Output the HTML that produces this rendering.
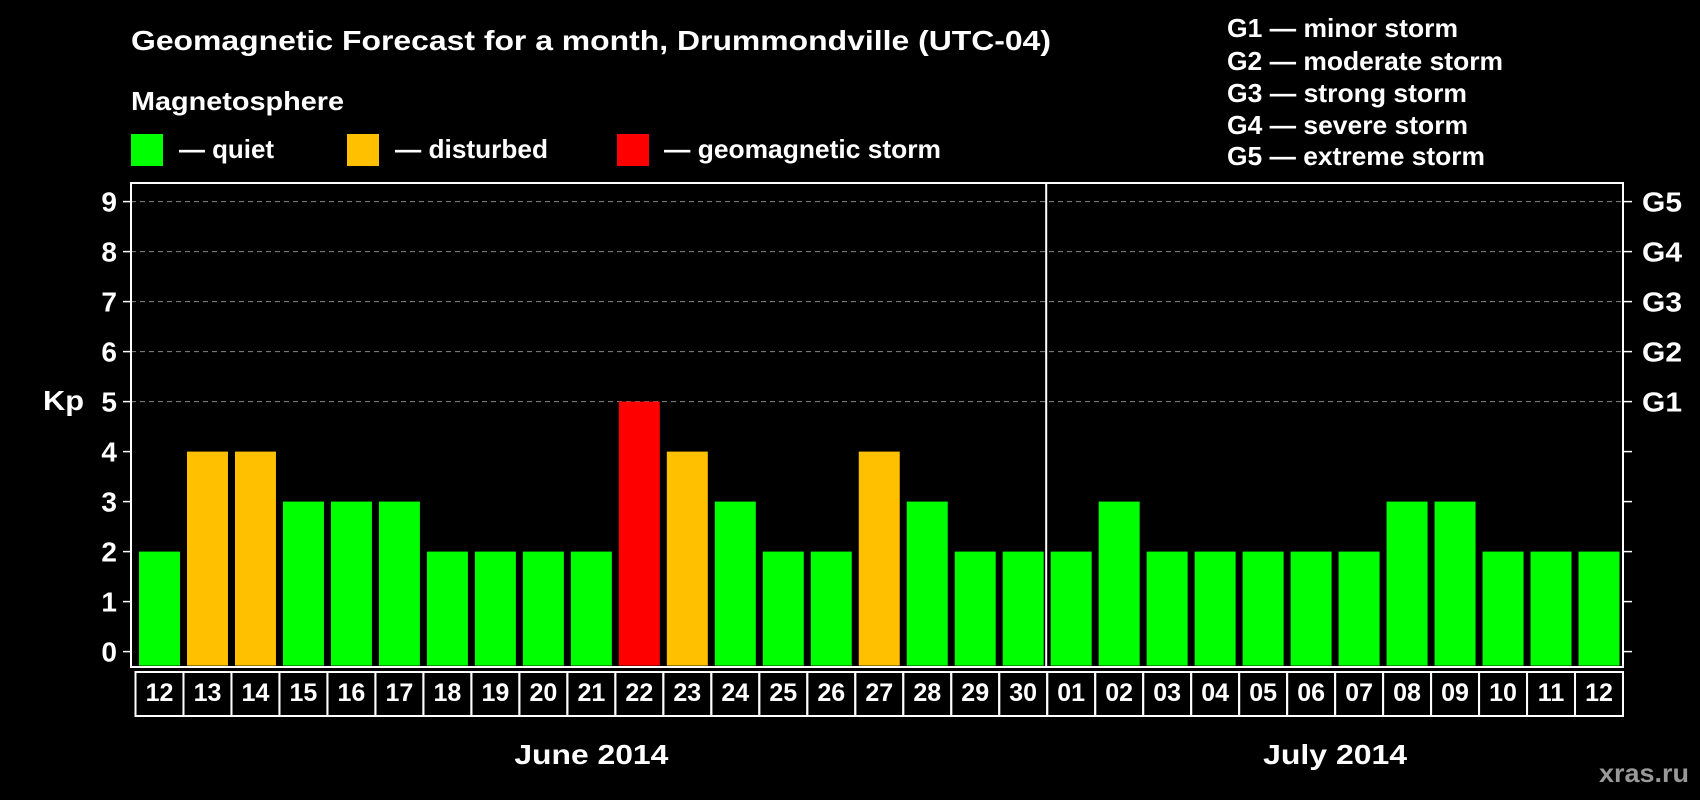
<!DOCTYPE html>
<html><head><meta charset="utf-8"><style>
html,body{margin:0;padding:0;background:#000;width:1700px;height:800px;overflow:hidden}
svg text{font-family:"Liberation Sans",Arial,sans-serif;font-weight:bold;fill:#fff}
</style></head><body>
<svg id="chart" width="1700" height="800" xmlns="http://www.w3.org/2000/svg">
<text x="131" y="50" font-size="28" textLength="920" lengthAdjust="spacingAndGlyphs">Geomagnetic Forecast for a month, Drummondville (UTC-04)</text>
<text x="131" y="110" font-size="26" textLength="213" lengthAdjust="spacingAndGlyphs">Magnetosphere</text>
<g><rect x="131" y="134" width="32" height="32" fill="#00ff00"/><text x="179" y="158" font-size="26" textLength="95" lengthAdjust="spacingAndGlyphs">— quiet</text></g>
<g><rect x="347" y="134" width="32" height="32" fill="#ffc000"/><text x="395" y="158" font-size="26" textLength="153" lengthAdjust="spacingAndGlyphs">— disturbed</text></g>
<g><rect x="617" y="134" width="32" height="32" fill="#ff0000"/><text x="664" y="158" font-size="26" textLength="277" lengthAdjust="spacingAndGlyphs">— geomagnetic storm</text></g>
<g>
<text x="1227" y="37" font-size="26" textLength="231" lengthAdjust="spacingAndGlyphs">G1 — minor storm</text>
<text x="1227" y="70" font-size="26" textLength="276" lengthAdjust="spacingAndGlyphs">G2 — moderate storm</text>
<text x="1227" y="102" font-size="26" textLength="240" lengthAdjust="spacingAndGlyphs">G3 — strong storm</text>
<text x="1227" y="134" font-size="26" textLength="241" lengthAdjust="spacingAndGlyphs">G4 — severe storm</text>
<text x="1227" y="165" font-size="26" textLength="258" lengthAdjust="spacingAndGlyphs">G5 — extreme storm</text>
</g>
<text x="43" y="410" font-size="28" textLength="41" lengthAdjust="spacingAndGlyphs">Kp</text>
<g id="grid"></g><g id="bars"></g><g id="axes"></g>
<text x="1599" y="782" font-size="26" textLength="90" lengthAdjust="spacingAndGlyphs" style="fill:#999">xras.ru</text>
</svg>
<script>
const days = ["12","13","14","15","16","17","18","19","20","21","22","23","24","25","26","27","28","29","30","01","02","03","04","05","06","07","08","09","10","11","12"];
const kpValues = [2,4,4,3,3,3,2,2,2,2,5,4,3,2,2,4,3,2,2,2,3,2,2,2,2,2,3,3,2,2,2];
const yTicks = [0,1,2,3,4,5,6,7,8,9];
const gLabels = ["G1","G2","G3","G4","G5"];
const months = ["June 2014","July 2014"];
const monthStartIdx = [0,19];

const NS="http://www.w3.org/2000/svg";
const L=131,R=1623,T=183,B=667,Y0=651.6,UNIT=50;
const slotStart=135.5, slot=(R-slotStart)/days.length;
const y=v=>Y0-v*UNIT;
const x=i=>slotStart+i*slot;
function mk(tag,attrs,parent,txt){const e=document.createElementNS(NS,tag);for(const k in attrs)e.setAttribute(k,attrs[k]);if(txt!==undefined)e.textContent=txt;parent.appendChild(e);return e;}
const grid=document.getElementById('grid'),bars=document.getElementById('bars'),axes=document.getElementById('axes');
yTicks.forEach(v=>{
  if(v>=5){const g=mk('line',{x1:L,x2:R,y1:y(v),y2:y(v),stroke:'#888','stroke-dasharray':'5,4','stroke-width':1},grid);
  
  }
  mk('line',{x1:L-8,x2:L,y1:y(v),y2:y(v),stroke:'#fff','stroke-width':1.5},axes);
  mk('line',{x1:R,x2:R+9,y1:y(v),y2:y(v),stroke:'#fff','stroke-width':1.5},axes);
  const t=mk('text',{x:117,y:y(v)+10,'font-size':28,'text-anchor':'end'},axes,String(v));
  
  
});
gLabels.forEach((g,i)=>{
  const t=mk('text',{x:1642,y:y(5+i)+10,'font-size':28,textLength:40,lengthAdjust:'spacingAndGlyphs'},axes,g);
  
  
});
kpValues.forEach((v,i)=>{
  const c=v>=5?'#ff0000':(v>=4?'#ffc000':'#00ff00');
  const r=mk('rect',{x:x(i)+3.5,y:y(v),width:slot-7,height:Y0-y(v)+14,fill:c},bars);
  
  
  mk('rect',{x:x(i),y:672,width:slot,height:44,fill:'none',stroke:'#fff','stroke-width':2},axes);
  const t=mk('text',{x:x(i)+slot/2,y:701,'font-size':25,'text-anchor':'middle'},axes,days[i]);
  
  
});
const fr=mk('rect',{x:L,y:T,width:R-L,height:B-T,fill:'none',stroke:'#fff','stroke-width':2},axes);


const dv=x(monthStartIdx[1])-1;
mk('line',{x1:dv,x2:dv,y1:T,y2:B,stroke:'#fff','stroke-width':2},axes);
const monthW=[154,144];
months.forEach((m,i)=>{
  const s=x(monthStartIdx[i]), e=i+1<months.length?x(monthStartIdx[i+1]):R;
  const t=mk('text',{x:(s+e)/2,y:764,'font-size':28,'text-anchor':'middle',textLength:monthW[i],lengthAdjust:'spacingAndGlyphs'},axes,m);
  
  
});
</script>
</body></html>
